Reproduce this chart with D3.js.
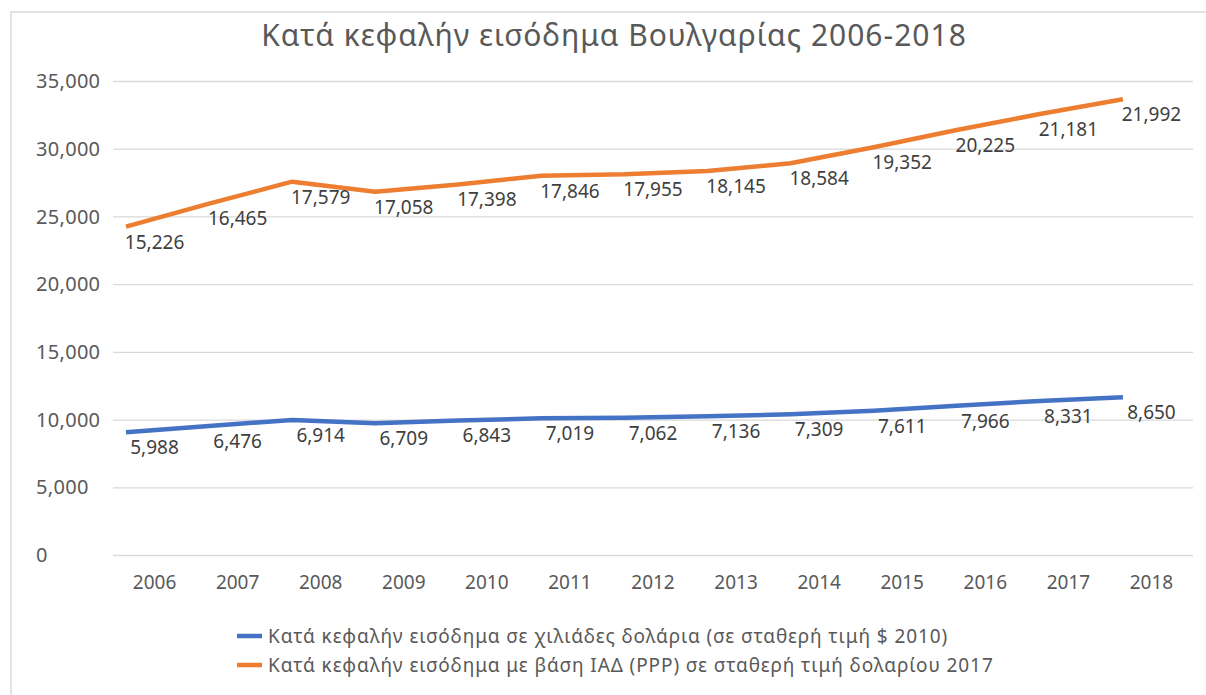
<!DOCTYPE html>
<html lang="el">
<head>
    <meta charset="UTF-8">
    <title>Κατά κεφαλήν εισόδημα Βουλγαρίας 2006-2018</title>
    <script src="https://cdn.jsdelivr.net/npm/d3@7"></script>
    <style>
        body {
            margin: 0;
            background: #fff;
            font-family: "Noto Sans", "Open Sans", sans-serif;
        }
        .grid line { stroke: #d9d9d9; stroke-width: 1.3; }
        .grid path { display: none; }
    </style>
</head>
<body>
<script>
    // years on the x axis
    var years = ["2006", "2007", "2008", "2009", "2010", "2011", "2012",
                 "2013", "2014", "2015", "2016", "2017", "2018"];

    // data labels as printed in the chart
    var gdpLabels = [5988, 6476, 6914, 6709, 6843, 7019, 7062, 7136, 7309, 7611, 7966, 8331, 8650];
    var pppLabels = [15226, 16465, 17579, 17058, 17398, 17846, 17955, 18145, 18584, 19352, 20225, 21181, 21992];

    // where the lines are actually drawn
    var gdpPlotted = [9060, 9525, 9968, 9725, 9931, 10094, 10138, 10241, 10389, 10655, 11024, 11371, 11645];
    var pppPlotted = [24242, 25950, 27565, 26826, 27350, 28008, 28110, 28354, 28923, 30104, 31380, 32563, 33648];

    var yTicks = [0, 5000, 10000, 15000, 20000, 25000, 30000, 35000];

    var seriesNames = [
        "Κατά κεφαλήν εισόδημα σε χιλιάδες δολάρια (σε σταθερή τιμή $ 2010)",
        "Κατά κεφαλήν εισόδημα με βάση ΙΑΔ (PPP) σε σταθερή τιμή δολαρίου 2017"
    ];
    var colors = ["#4472c4", "#ed7d31"];

    var series = [
        {name: seriesNames[0], color: colors[0], values: gdpPlotted, labels: gdpLabels},
        {name: seriesNames[1], color: colors[1], values: pppPlotted, labels: pppLabels}
    ];

    var W = 1206, H = 695;
    var margin = {top: 81, right: 13, bottom: 140, left: 113};
    var width = W - margin.left - margin.right,
        height = H - margin.top - margin.bottom;

    var svg = d3.select("body").append("svg")
        .attr("width", W)
        .attr("height", H);

    // chart frame
    svg.append("rect")
        .attr("x", 11).attr("y", 12)
        .attr("width", 1210).attr("height", 700)
        .attr("fill", "#fff")
        .attr("stroke", "#e3e3e3")
        .attr("stroke-width", 2);

    svg.append("text")
        .attr("x", 614)
        .attr("y", 46)
        .attr("text-anchor", "middle")
        .attr("fill", "#595959")
        .style("font-size", "30px")
        .style("letter-spacing", "1px")
        .text("Κατά κεφαλήν εισόδημα Βουλγαρίας 2006-2018");

    var g = svg.append("g")
        .attr("transform", "translate(" + margin.left + "," + margin.top + ")");

    var x = d3.scaleBand()
        .domain(years)
        .range([0, width])
        .padding(0);

    var y = d3.scaleLinear()
        .domain([0, 35000])
        .range([height, 0]);

    // the lines sit a bit left of the category centres in the original
    var lineOffset = 13;
    var px = (d, i) => x(years[i]) + lineOffset;

    g.append("g")
        .attr("class", "grid")
        .call(d3.axisLeft(y).tickValues(yTicks).tickSize(-width).tickFormat(""));

    // y tick labels are left aligned in the original
    g.selectAll(".ylab")
        .data(yTicks)
        .enter().append("text")
        .attr("class", "ylab")
        .attr("x", 36 - margin.left)
        .attr("y", d => y(d))
        .attr("dy", "0.36em")
        .attr("fill", "#595959")
        .style("font-size", "20px")
        .style("letter-spacing", "0.3px")
        .text(d3.format(","));

    var xAxis = g.append("g")
        .attr("transform", "translate(0," + height + ")")
        .call(d3.axisBottom(x).tickSize(0).tickPadding(21));
    xAxis.select(".domain").remove();
    xAxis.selectAll("text")
        .attr("fill", "#595959")
        .style("font-size", "19px")
        .style("font-family", "Noto Sans, Open Sans, sans-serif");

    var line = d3.line()
        .x(px)
        .y(d => y(d));

    series.forEach(function (s) {
        g.append("path")
            .datum(s.values)
            .attr("fill", "none")
            .attr("stroke", s.color)
            .attr("stroke-width", 4.5)
            .attr("stroke-linejoin", "round")
            .attr("d", line);

        g.selectAll(null)
            .data(s.values)
            .enter().append("text")
            .attr("x", (d, i) => x(years[i]) + x.bandwidth() / 2)
            .attr("y", d => y(d) + 15)
            .attr("dy", "0.36em")
            .attr("text-anchor", "middle")
            .attr("fill", "#404040")
            .style("font-size", "19px")
            .text((d, i) => d3.format(",")(s.labels[i]));
    });

    // legend
    var legend = svg.append("g");
    var items = legend.selectAll("g")
        .data(series)
        .enter().append("g")
        .attr("transform", (d, i) => "translate(237," + (636 + i * 29) + ")");
    items.append("line")
        .attr("x1", 0).attr("x2", 25)
        .attr("stroke", d => d.color)
        .attr("stroke-width", 4.5);
    items.append("text")
        .attr("x", 31)
        .attr("dy", "0.36em")
        .attr("fill", "#595959")
        .style("font-size", "19px")
        .style("letter-spacing", "0.9px")
        .text(d => d.name);
</script>
</body>
</html>
